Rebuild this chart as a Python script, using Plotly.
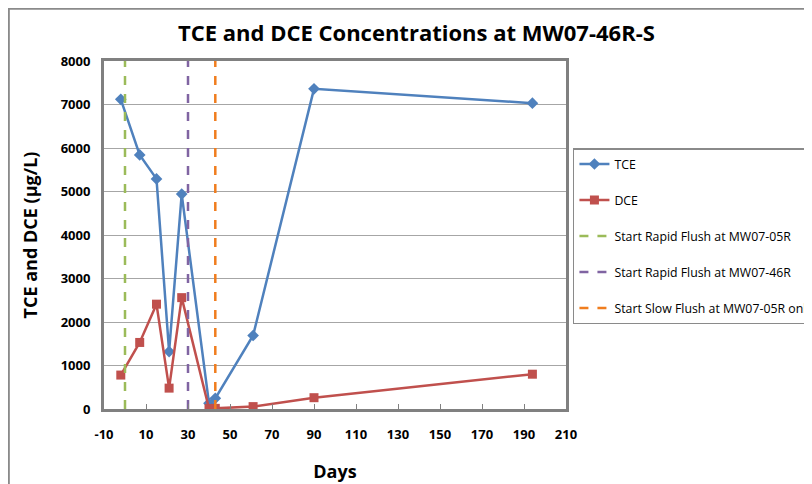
"""
TCE / DCE concentrations at MW07-46R-S
"""

import plotly.graph_objects as go

# TCE
tce_days = [-2, 7, 15, 21, 27, 40, 43, 61, 90, 194]
tce_conc = [7120, 5840, 5290, 1320, 4940, 130, 245, 1690, 7360, 7030]

# DCE
dce_days = [-2, 7, 15, 21, 27, 40, 43, 61, 90, 194]
dce_conc = [780, 1530, 2410, 480, 2560, 10, 15, 55, 260, 800]

# flush events
event_names = [
    "Start Rapid Flush at MW07-05R",
    "Start Rapid Flush at MW07-46R",
    "Start Slow Flush at MW07-05R only",
]
event_days = [0, 30, 43]
event_colors = ["#9BBB59", "#8064A2", "#F07D1E"]

Y_RANGE = [0, 8000]
X_RANGE = [-10, 210]
x_ticks = list(range(-10, 211, 20))
x_tick_text = [str(v) for v in x_ticks]   # plain hyphen like Excel

FONT = "Open Sans"

fig = go.Figure()

fig.add_trace(go.Scatter(
    x=tce_days, y=tce_conc, mode="lines+markers", name="TCE",
    line=dict(color="#4F81BD", width=2.5),
    marker=dict(symbol="diamond", size=9, color="#4F81BD"),
    legendgroup="a",
))
fig.add_trace(go.Scatter(
    x=dce_days, y=dce_conc, mode="lines+markers", name="DCE",
    line=dict(color="#C0504D", width=2.5),
    marker=dict(symbol="square", size=9, color="#C0504D"),
    legendgroup="b",
))

for i, (name, day, col) in enumerate(zip(event_names, event_days, event_colors)):
    fig.add_trace(go.Scatter(
        x=[day, day], y=Y_RANGE, mode="lines", name=name,
        line=dict(color=col, width=2.5, dash="dash"),
        legendgroup="c%d" % i,
    ))

# outer chart border
fig.add_shape(
    type="rect", xref="paper", yref="paper",
    x0=-0.206, x1=1.8, y0=-0.4, y1=1.15,
    line=dict(color="#8a8a8a", width=2), layer="below",
)

# the page body adds 8px, so margins are 8px smaller than the reference
fig.update_layout(
    width=812, height=484,
    paper_bgcolor="white", plot_bgcolor="white",
    margin=dict(l=96, r=254, t=53, b=83, autoexpand=False),
    font=dict(family=FONT, color="black"),
    title=dict(
        text="<b>TCE and DCE Concentrations at MW07-46R-S</b>",
        x=0.503, xanchor="center", y=0.948, yanchor="middle",
        font=dict(size=22, family=FONT),
    ),
    showlegend=True,
    legend=dict(
        x=1.015, y=0.75, xanchor="left", yanchor="top",
        bordercolor="#8a8a8a", borderwidth=1.5,
        font=dict(size=12.3, family=FONT),
        traceorder="grouped", tracegroupgap=17,
    ),
)

fig.update_xaxes(
    range=X_RANGE, tickvals=x_ticks, ticktext=x_tick_text,
    showgrid=False, zeroline=False, automargin=False,
    showline=True, linecolor="#808080", linewidth=3, mirror=True,
    ticks="inside", ticklen=5, tickcolor="#808080",
    ticklabelstandoff=11,
    tickfont=dict(size=13, family=FONT, weight="bold"),
    title=dict(text="<b>Days</b>", font=dict(size=18, family=FONT), standoff=24),
)
fig.update_yaxes(
    range=Y_RANGE, dtick=1000,
    showgrid=True, gridcolor="#a6a6a6", gridwidth=1, zeroline=False, automargin=False,
    showline=True, linecolor="#808080", linewidth=3, mirror=True,
    ticks="", ticklabelstandoff=8,
    tickfont=dict(size=13, family=FONT, weight="bold"),
    title=dict(text="<b>TCE and DCE (µg/L)</b>", font=dict(size=18, family=FONT), standoff=19),
)

fig.write_html("out.html")
